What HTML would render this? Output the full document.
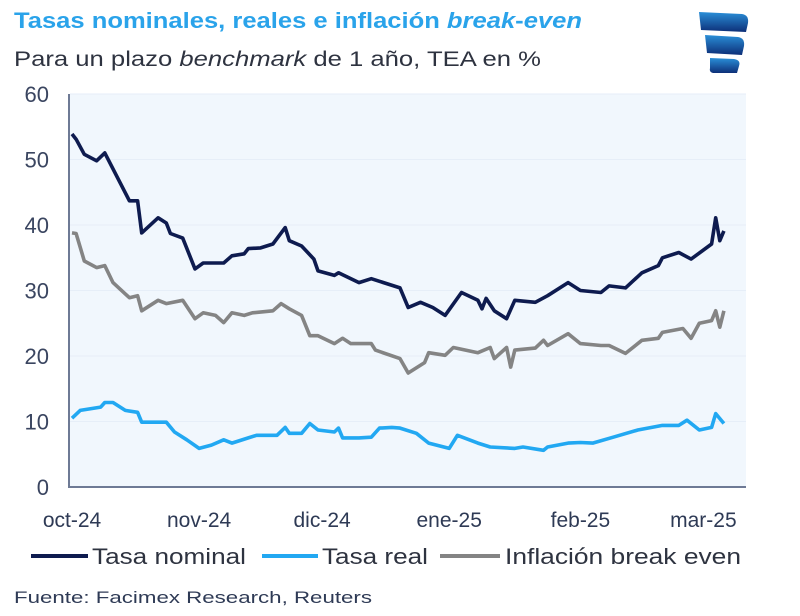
<!DOCTYPE html>
<html><head><meta charset="utf-8"><style>
body{margin:0;background:#fff;width:800px;height:616px;overflow:hidden;font-family:"Liberation Sans",sans-serif}
svg{display:block}
</style></head><body>
<svg width="800" height="616" viewBox="0 0 800 616">
<defs><linearGradient id="lg" x1="0" y1="0" x2="0" y2="1"><stop offset="0" stop-color="#2a8fd8"/><stop offset="1" stop-color="#0d2f78"/></linearGradient></defs>
<text x="14" y="28" font-size="22" font-weight="bold" fill="#2aa3ea" textLength="568" lengthAdjust="spacingAndGlyphs">Tasas nominales, reales e inflación <tspan font-style="italic">break</tspan>-<tspan font-style="italic">even</tspan></text>
<text x="14" y="66" font-size="21" fill="#2e3340" textLength="527" lengthAdjust="spacingAndGlyphs">Para un plazo <tspan font-style="italic">benchmark</tspan> de 1 año, TEA en %</text>
<g fill="url(#lg)">
<path d="M699 12 L742 14 Q749 15 748 23 L746 32 L701 30 Z"/>
<path d="M705 35 L738 37 Q745 38 744 46 L742 55 L707 53 Z"/>
<path d="M710 58 L734 59 Q741 60 739 66 L737 73 L713 73 Q709 72 710 68 Z"/>
</g>
<rect x="70" y="94" width="676" height="393" fill="#f1f7fd"/>
<g id="grid"></g>
<g id="yticks" font-size="22" fill="#3a4560" text-anchor="end"></g>
<g id="xticks" font-size="21" fill="#2e3a55" text-anchor="middle"></g>
<line x1="69" y1="94" x2="69" y2="488" stroke="#6e7a95" stroke-width="2"/>
<line x1="69" y1="487" x2="746" y2="487" stroke="#6e7a95" stroke-width="2"/>
<g id="series" fill="none" stroke-width="3.6" stroke-linejoin="round"></g>
<g font-size="22" fill="#2e3340">
<g><line x1="31" y1="556" x2="88" y2="556" stroke="#0e1b4f" stroke-width="4"/><text x="92" y="564" textLength="154" lengthAdjust="spacingAndGlyphs">Tasa nominal</text></g>
<g><line x1="262" y1="556" x2="318" y2="556" stroke="#22a8f2" stroke-width="4"/><text x="322" y="564" textLength="106" lengthAdjust="spacingAndGlyphs">Tasa real</text></g>
<g><line x1="440" y1="556" x2="500" y2="556" stroke="#848484" stroke-width="4"/><text x="505" y="564" textLength="236" lengthAdjust="spacingAndGlyphs">Inflación break even</text></g>
</g>
<text x="14" y="603" font-size="17" fill="#2e3a55" textLength="358" lengthAdjust="spacingAndGlyphs">Fuente: Facimex Research, Reuters</text>
</svg>
<script>
const yTicks=[0,10,20,30,40,50,60];
const xTickLabels=["oct-24","nov-24","dic-24","ene-25","feb-25","mar-25"];
const xTickDays=[0,31,61,92,124,154];
const nominalDays=[0,1,3,6,8,14,16,17,21,23,24,27,30,32,37,39,42,43,46,49,52,53,56,59,60,64,65,70,73,80,82,85,88,91,95,99,100,101,103,106,108,113,116,121,124,129,131,135,139,143,144,148,151,156,157,158,159];
const nominalValues=[53.9,53.1,50.8,49.8,51,43.7,43.7,38.8,41.1,40.3,38.7,38,33.3,34.2,34.2,35.3,35.6,36.4,36.5,37.1,39.6,37.6,36.8,34.8,33,32.3,32.7,31.2,31.8,30.4,27.4,28.2,27.4,26.2,29.7,28.5,27.2,28.8,26.9,25.7,28.5,28.2,29.2,31.2,30,29.7,30.7,30.4,32.7,33.8,35,35.8,34.8,37.1,41.1,37.6,39.1];
const breakevenDays=[0,1,3,6,8,10,14,16,17,21,23,27,30,32,35,37,39,42,44,49,51,53,56,58,60,64,66,68,73,74,80,82,86,87,91,93,99,102,103,106,107,108,113,115,116,121,124,129,131,135,139,143,144,149,151,153,156,157,158,159];
const breakevenValues=[38.8,38.7,34.5,33.5,33.8,31.2,28.9,29.2,26.9,28.5,28,28.5,25.7,26.6,26.2,25.1,26.6,26.2,26.6,26.9,28,27.2,26.2,23.1,23.1,21.9,22.7,21.9,21.9,20.9,19.6,17.4,19,20.5,20.1,21.3,20.5,21.3,19.6,21.3,18.3,20.9,21.2,22.4,21.6,23.4,21.9,21.6,21.6,20.4,22.4,22.7,23.6,24.2,22.7,25,25.4,26.9,24.4,26.9];
const realDays=[0,2,7,8,10,13,16,17,23,25,28,31,34,37,39,43,45,50,52,53,56,58,60,64,65,66,70,73,75,78,80,84,87,92,94,99,102,108,110,115,116,121,124,127,132,138,144,148,150,153,156,157,159];
const realValues=[10.5,11.7,12.2,12.9,12.9,11.7,11.4,9.9,9.9,8.4,7.2,5.9,6.4,7.2,6.7,7.5,7.9,7.9,9.1,8.2,8.2,9.7,8.7,8.4,9,7.5,7.5,7.6,9,9.1,9,8.2,6.7,5.9,7.9,6.7,6.1,5.9,6.1,5.6,6.1,6.7,6.8,6.7,7.6,8.7,9.4,9.4,10.2,8.7,9.1,11.2,9.7];
const NS="http://www.w3.org/2000/svg";
function xs(d){return 72+d*4.1;}
function ys(v){return 487-v*6.55;}
const grid=document.getElementById('grid'),yt=document.getElementById('yticks'),xt=document.getElementById('xticks'),ser=document.getElementById('series');
yTicks.forEach(v=>{
  if(v>0){const l=document.createElementNS(NS,'line');
  l.setAttribute('x1',70);l.setAttribute('x2',746);l.setAttribute('y1',ys(v));l.setAttribute('y2',ys(v));
  l.setAttribute('stroke','#e6eef8');l.setAttribute('stroke-width','1');
  
  
  grid.appendChild(l);}
  const t=document.createElementNS(NS,'text');
  t.setAttribute('x',49);t.setAttribute('y',ys(v)+8);t.textContent=v;
  
  
  yt.appendChild(t);
});
xTickLabels.forEach((s,i)=>{
  const t=document.createElementNS(NS,'text');
  t.setAttribute('x',xs(xTickDays[i]));t.setAttribute('y',527);t.textContent=s;
  
  
  xt.appendChild(t);
});
function line(days,vals,color,name){
  const p=document.createElementNS(NS,'path');
  p.setAttribute('d',days.map((d,i)=>(i?'L':'M')+xs(d).toFixed(1)+' '+ys(vals[i]).toFixed(1)).join(' '));
  p.setAttribute('stroke',color);
  
  
  ser.appendChild(p);
}
line(breakevenDays,breakevenValues,'#848484','breakeven-line');
line(realDays,realValues,'#22a8f2','real-rate-line');
line(nominalDays,nominalValues,'#0e1b4f','nominal-rate-line');
</script>
</body></html>
